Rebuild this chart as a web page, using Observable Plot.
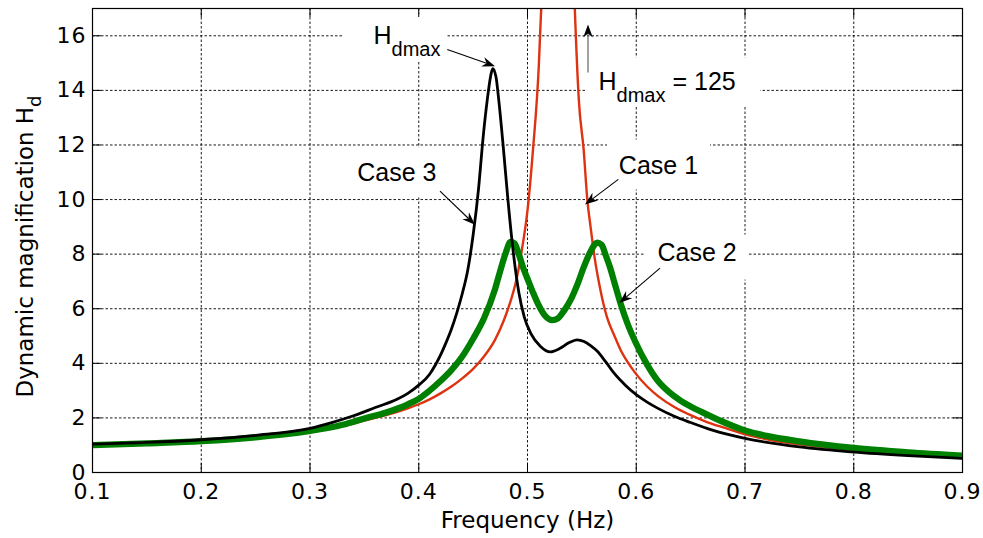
<!DOCTYPE html>
<html>
<head>
<meta charset="utf-8">
<script src="https://cdn.jsdelivr.net/npm/d3@7"></script>
<script src="https://cdn.jsdelivr.net/npm/@observablehq/plot@0.6"></script>
<style>
  html, body { margin: 0; padding: 0; background: #fff; }
  #chart { width: 983px; height: 538px; }
</style>
</head>
<body>
<div id="chart"></div>
<script>
// ---------- data ----------
const xTicks = [0.1, 0.2, 0.3, 0.4, 0.5, 0.6, 0.7, 0.8, 0.9];
const yTicks = [0, 2, 4, 6, 8, 10, 12, 14, 16];

// Case 1 (red)
const case1Freq = [0.10,0.15,0.20,0.25,0.30,0.33,0.35,0.37,0.39,0.40,0.41,0.42,0.43,0.44,0.45,0.46,0.47,0.478,0.485,0.49,0.495,0.50,0.505,0.5104,0.5126,0.52,0.527,0.535,0.5435,0.5472,0.5517,0.555,0.558,0.562,0.566,0.573,0.58,0.5855,0.592,0.599,0.61,0.62,0.635,0.65,0.665,0.68,0.70,0.72,0.75,0.80,0.85,0.90];
const case1Hd   = [1.02,1.07,1.15,1.29,1.48,1.70,1.90,2.10,2.35,2.50,2.68,2.90,3.15,3.45,3.80,4.25,4.85,5.55,6.35,7.10,8.20,9.60,11.8,14.9,17.0,30,125,30,17.0,13.65,11.8,10.0,9.0,7.8,6.9,5.7,5.0,4.5,4.05,3.65,3.15,2.80,2.40,2.10,1.85,1.65,1.40,1.22,1.03,0.83,0.68,0.58];

// Case 2 (green)
const case2Freq = [0.10,0.15,0.20,0.25,0.30,0.33,0.35,0.37,0.39,0.40,0.41,0.42,0.43,0.44,0.45,0.46,0.47,0.475,0.48,0.4844,0.488,0.492,0.496,0.50,0.505,0.51,0.516,0.5227,0.528,0.534,0.54,0.546,0.552,0.558,0.564,0.568,0.572,0.576,0.58,0.5855,0.592,0.599,0.61,0.62,0.63,0.64,0.65,0.66,0.68,0.70,0.72,0.75,0.80,0.85,0.90];
const case2Hd   = [1.00,1.07,1.15,1.29,1.52,1.75,1.98,2.20,2.50,2.70,3.00,3.35,3.75,4.25,4.90,5.65,6.70,7.40,8.05,8.45,8.40,8.00,7.50,7.10,6.60,6.15,5.75,5.58,5.65,5.95,6.35,6.90,7.55,8.10,8.42,8.35,7.95,7.50,6.95,6.20,5.45,4.80,3.95,3.35,2.95,2.65,2.42,2.22,1.85,1.54,1.34,1.14,0.90,0.74,0.62];

// Case 3 (black)
const case3Freq = [0.10,0.15,0.20,0.25,0.30,0.32,0.34,0.36,0.38,0.39,0.40,0.41,0.415,0.42,0.425,0.43,0.435,0.44,0.445,0.45,0.455,0.459,0.463,0.466,0.468,0.471,0.4737,0.478,0.482,0.486,0.492,0.497,0.503,0.512,0.521,0.53,0.538,0.5457,0.552,0.558,0.564,0.572,0.58,0.59,0.60,0.61,0.62,0.635,0.65,0.67,0.70,0.75,0.80,0.85,0.90];
const case3Hd   = [1.04,1.10,1.20,1.36,1.62,1.83,2.08,2.38,2.68,2.90,3.20,3.60,3.92,4.30,4.75,5.25,5.85,6.55,7.40,8.70,10.4,12.2,13.65,14.5,14.8,14.5,13.6,11.8,10.0,8.40,6.60,5.70,5.10,4.62,4.42,4.55,4.75,4.86,4.80,4.65,4.45,4.05,3.62,3.20,2.85,2.58,2.35,2.06,1.83,1.55,1.25,0.94,0.75,0.62,0.52];

// annotations (data units)
const labelText = ["Case 3", "Case 1", "Case 2", "Hdmax", "Hdmax = 125"];
const labelX    = [0.3434, 0.584, 0.6195, 0.3584, 0.5653];
const labelY    = [10.99, 11.23, 8.04, 16.0, 14.31];

const boxX1 = [0.330, 0.5552, 0.5736, 0.3326, 0.6085];
const boxX2 = [0.4265, 0.7143, 0.6683, 0.4245, 0.7032];
const boxY1 = [15.05, 13.39, 10.35, 10.06, 7.05];
const boxY2 = [16.77, 15.19, 12.18, 11.89, 8.70];

const arrowX1 = [0.4267, 0.5561, 0.420, 0.584, 0.6223];
const arrowY1 = [15.48, 14.64, 10.29, 10.72, 7.47];
const arrowX2 = [0.4706, 0.5561, 0.4522, 0.5533, 0.5849];
const arrowY2 = [14.87, 16.40, 9.06, 9.80, 6.19];
const arrowColor = ["#000", "#555", "#000", "#000", "#000"];

const xLabel = "Frequency (Hz)";
const yLabel = "Dynamic magnification Hd";

// ---------- build tables ----------
const toRows = (fs, hs) => fs.map((f, i) => ({f, hd: hs[i]}));
const rows1 = toRows(case1Freq, case1Hd);
const rows2 = toRows(case2Freq, case2Hd);
const rows3 = toRows(case3Freq, case3Hd);
const labels = labelText.map((t, i) => ({t, x: labelX[i], y: labelY[i]}));
const boxes = boxX1.map((v, i) => ({x1: v, x2: boxX2[i], y1: boxY1[i], y2: boxY2[i]}));
const arrows = arrowX1.map((v, i) => ({x1: v, y1: arrowY1[i], x2: arrowX2[i], y2: arrowY2[i], c: arrowColor[i]}));

const FONT = "'Liberation Sans', Arial, Helvetica, sans-serif";
const AXFONT = "'DejaVu Sans', 'Liberation Sans', sans-serif";
const W = 983, H = 538, mL = 92, mR = 21, mT = 8, mB = 66;
const xDom = [0.1, 0.9], yDom = [0, 17];
const tickPx = 9;
const tickY = tickPx * (yDom[1] - yDom[0]) / (H - mT - mB);
const tickX = tickPx * (xDom[1] - xDom[0]) / (W - mL - mR);

const gridStyle = {stroke: "#000", strokeOpacity: 1, strokeWidth: 0.9, strokeDasharray: "2.5,2"};

const plot = Plot.plot({
  width: W, height: H,
  marginLeft: mL, marginRight: mR, marginTop: mT, marginBottom: mB,
  style: {fontFamily: FONT, background: "#fff", color: "#000", overflow: "visible"},
  x: {domain: xDom},
  y: {domain: yDom},
  marks: [
    Plot.gridX(xTicks, gridStyle),
    Plot.gridY(yTicks, gridStyle),
    Plot.rect(boxes, {x1: "x1", x2: "x2", y1: "y1", y2: "y2", fill: "#fff"}),
    Plot.line(rows1, {x: "f", y: "hd", stroke: "#dd3311", strokeWidth: 2.4, curve: "monotone-x", clip: true}),
    Plot.line(rows2, {x: "f", y: "hd", stroke: "#008000", strokeWidth: 6.3, curve: "monotone-x", clip: true}),
    Plot.line(rows3, {x: "f", y: "hd", stroke: "#000", strokeWidth: 2.8, curve: "monotone-x", clip: true}),
    // inward ticks
    Plot.ruleX(xTicks, {x: d => d, y1: yDom[0], y2: yDom[0] + tickY, stroke: "#000"}),
    Plot.ruleX(xTicks, {x: d => d, y1: yDom[1] - tickY, y2: yDom[1], stroke: "#000"}),
    Plot.ruleY(yTicks, {y: d => d, x1: xDom[0], x2: xDom[0] + tickX, stroke: "#000"}),
    Plot.ruleY(yTicks, {y: d => d, x1: xDom[1] - tickX, x2: xDom[1], stroke: "#000"}),
    Plot.frame({stroke: "#000", strokeWidth: 1.2}),
    Plot.axisX(xTicks, {anchor: "bottom", tickSize: 0, tickPadding: 11, tickFormat: d => d.toFixed(1), fontSize: 22, fontFamily: AXFONT, label: null}),
    Plot.axisY(yTicks, {anchor: "left", tickSize: 0, tickPadding: 6, tickFormat: d => String(d), fontSize: 22, fontFamily: AXFONT, label: null}),
    Plot.text([xLabel], {frameAnchor: "bottom", dy: 48, text: d => d, fontSize: 23, fontFamily: AXFONT, lineAnchor: "middle", textAnchor: "middle"}),
    Plot.text([yLabel], {frameAnchor: "left", dx: -67, dy: 6, rotate: -90, text: d => d, fontSize: 23, fontFamily: AXFONT, lineAnchor: "middle", textAnchor: "middle"}),
    Plot.text(labels, {x: "x", y: "y", text: "t", fontSize: 25, textAnchor: "start", lineAnchor: "middle", fill: "#000"})
  ]
});

document.getElementById("chart").appendChild(plot);

// ---------- post: subscripts and filled arrowheads ----------
const svg = d3.select(plot);
svg.selectAll("text").each(function () {
  const t = this.textContent;
  const sel = d3.select(this);
  if (t === "Hdmax" || t === "Hdmax = 125") {
    sel.text(null);
    sel.append("tspan").text("H");
    sel.append("tspan").attr("dy", 12).attr("font-size", 20).text("dmax");
    if (t !== "Hdmax") sel.append("tspan").attr("dy", -12).text(" = 125");
  } else if (t === yLabel) {
    sel.text(null);
    sel.append("tspan").text("Dynamic magnification H");
    sel.append("tspan").attr("dy", 8).attr("font-size", 18).text("d");
  }
});
svg.selectAll("[aria-label='x-axis tick label'] text, [aria-label='y-axis tick label'] text")
  .attr("letter-spacing", 1);

const sx = plot.scale("x"), sy = plot.scale("y");
const ag = svg.append("g");
arrows.forEach(a => {
  const x1 = sx.apply(a.x1), y1 = sy.apply(a.y1), x2 = sx.apply(a.x2), y2 = sy.apply(a.y2);
  const dx = x2 - x1, dy = y2 - y1, L = Math.hypot(dx, dy);
  const ux = dx / L, uy = dy / L, px = -uy, py = ux;
  const hl = 13, hw = 4.8, notch = 9;
  const bx = x2 - ux * hl, by = y2 - uy * hl;
  const nx = x2 - ux * notch, ny = y2 - uy * notch;
  ag.append("line").attr("x1", x1).attr("y1", y1).attr("x2", nx).attr("y2", ny)
    .attr("stroke", a.c).attr("stroke-width", 1.1);
  ag.append("path")
    .attr("d", `M${x2},${y2}L${bx + px * hw},${by + py * hw}L${nx},${ny}L${bx - px * hw},${by - py * hw}Z`)
    .attr("fill", "#000");
});
</script>
</body>
</html>
